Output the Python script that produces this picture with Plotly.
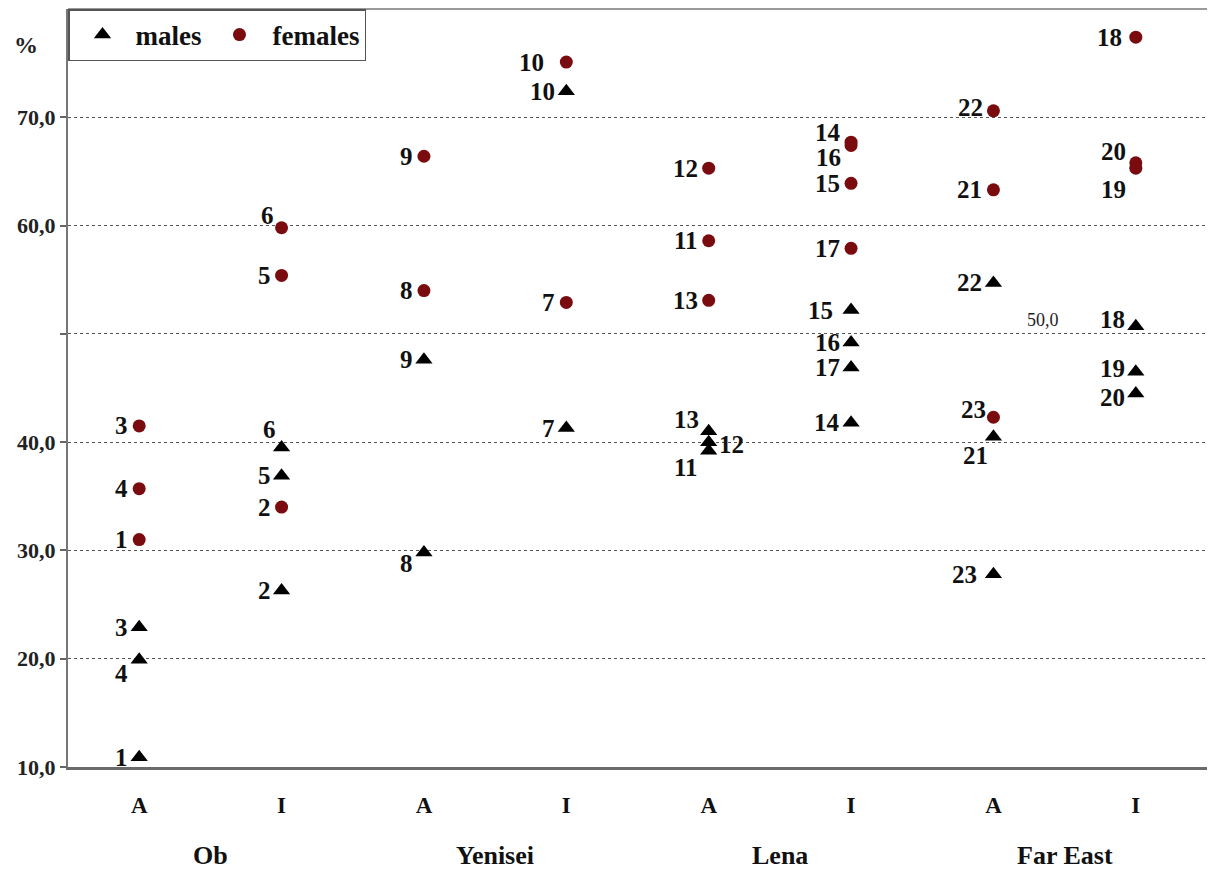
import plotly.graph_objects as go

# Category axis: two site types per river basin
categories = ["A", "I", "A", "I", "A", "I", "A", "I"]
regions = ["Ob", "Yenisei", "Lena", "Far East"]

# Males: category index, sample number, percentage
male_pos = [0, 0, 0, 1, 1, 1, 2, 2, 3, 3, 4, 4, 4, 5, 5, 5, 5, 6, 6, 6, 7, 7, 7]
male_id = [1, 3, 4, 2, 5, 6, 8, 9, 7, 10, 11, 12, 13, 14, 15, 16, 17, 21, 22, 23, 18, 19, 20]
male_val = [10.9, 22.9, 19.9, 26.3, 36.9, 39.5, 29.8, 47.6, 41.3, 72.4, 39.2, 40.0, 41.0,
            41.8, 52.2, 49.2, 46.9, 40.5, 54.7, 27.8, 50.7, 46.5, 44.5]

# Females: category index, sample number, percentage
female_pos = [0, 0, 0, 1, 1, 1, 2, 2, 3, 3, 4, 4, 4, 5, 5, 5, 5, 6, 6, 6, 7, 7, 7]
female_id = [1, 3, 4, 2, 5, 6, 8, 9, 7, 10, 11, 12, 13, 14, 15, 16, 17, 21, 22, 23, 18, 19, 20]
female_val = [31.0, 41.5, 35.7, 34.0, 55.4, 59.8, 54.0, 66.4, 52.9, 75.1, 58.6, 65.3, 53.1,
              67.7, 63.9, 67.4, 57.9, 63.3, 70.6, 42.3, 77.4, 65.3, 65.8]

y_ticks = [10, 20, 30, 40, 50, 60, 70]
y_ticktext = ["10,0", "20,0", "30,0", "40,0", "", "60,0", "70,0"]

SERIF = "Liberation Serif"
RED = "#7a0c0f"

# Label placement tweaks (pixel offsets of the number relative to its marker)
label_shift = {
    ("m", 4): (-9, -14, "right"),
    ("m", 6): (-4, 18, "right"),
    ("m", 8): (-9, -11, "right"),
    ("m", 13): (-8, 12, "right"),
    ("m", 12): (8, -2, "left"),
    ("m", 11): (-9, -17, "right"),
    ("m", 21): (-3, -19, "right"),
    ("m", 18): (-9, 7, "right"),
    ("m", 19): (-9, 3, "right"),
    ("m", 20): (-9, -4, "right"),
    ("m", 15): (-16, 0, "right"),
    ("m", 23): (-14, 0, "right"),
    ("f", 6): (-6, 12, "right"),
    ("f", 14): (-8, 10, "right"),
    ("f", 16): (-8, -12, "right"),
    ("f", 23): (-5, 8, "right"),
    ("f", 20): (-8, 11, "right"),
    ("f", 19): (-8, -21, "right"),
    ("f", 10): (-20, 0, "right"),
    ("f", 18): (-12, 0, "right"),
    ("f", 22): (-8, 3, "right"),
}

fig = go.Figure()
fig.add_trace(go.Scatter(
    x=male_pos, y=male_val, mode="markers", name="males",
    marker=dict(symbol="triangle-up", size=15, color="black"),
))
fig.add_trace(go.Scatter(
    x=female_pos, y=female_val, mode="markers", name="females",
    marker=dict(symbol="circle", size=13, color=RED),
))

annotations = []
for tag, pos, ids, vals in (("m", male_pos, male_id, male_val),
                            ("f", female_pos, female_id, female_val)):
    for p, i, v in zip(pos, ids, vals):
        dx, dy, anchor = label_shift.get((tag, i), (-9, 0, "right"))
        annotations.append(dict(
            x=p, y=v, xref="x", yref="y", text="<b>%d</b>" % i, showarrow=False,
            xanchor=anchor, yanchor="middle", xshift=dx, yshift=dy,
            font=dict(family=SERIF, size=25, color="#111"),
        ))

# River basin names below the A / I pairs
for k, name in enumerate(regions):
    annotations.append(dict(
        x=2 * k + 0.5, y=0, xref="x", yref="paper", text="<b>%s</b>" % name,
        showarrow=False, yanchor="top", yshift=-72,
        font=dict(family=SERIF, size=26, color="#111"),
    ))

# Unit label and the displaced 50,0 label
annotations.append(dict(
    x=-0.037, y=0.952, xref="paper", yref="paper", text="<b>%</b>",
    showarrow=False, xanchor="center", yanchor="middle",
    font=dict(family=SERIF, size=24, color="#222"),
))
annotations.append(dict(
    x=6.35, y=51.3, xref="x", yref="y", text="50,0", showarrow=False,
    xanchor="center", yanchor="middle",
    font=dict(family=SERIF, size=18, color="#222"),
))

fig.update_layout(
    width=1208, height=874,
    margin=dict(l=68, r=1, t=9, b=107),
    paper_bgcolor="white", plot_bgcolor="white",
    showlegend=True,
    legend=dict(
        orientation="h", x=0, y=1, xanchor="left", yanchor="top",
        bgcolor="white", bordercolor="#555", borderwidth=1.5,
        font=dict(family=SERIF, size=27, color="#111", weight="bold"),
        itemwidth=56, tracegroupgap=0,
    ),
    annotations=annotations,
    # light frame line along the top of the plotting area
    shapes=[dict(type="line", xref="paper", yref="paper", x0=0, x1=1, y0=1, y1=1,
                 line=dict(color="#9a9a9a", width=2), layer="below")],
    xaxis=dict(
        range=[-0.5, 7.5], tickmode="array", tickvals=list(range(8)),
        ticktext=["<b>%s</b>" % c for c in categories],
        ticks="", showgrid=False, zeroline=False,
        showline=True, linecolor="#6a6a6a", linewidth=2.5,
        tickfont=dict(family=SERIF, size=23, color="#111"),
        ticklabelstandoff=16,
    ),
    yaxis=dict(
        range=[10, 80], tickmode="array", tickvals=y_ticks,
        ticktext=["<b>%s</b>" % t if t else "" for t in y_ticktext],
        ticks="outside", ticklen=6, tickcolor="#666", tickwidth=1.5,
        showgrid=True, gridcolor="#555", griddash="dot", gridwidth=1.3,
        zeroline=False, showline=True, linecolor="#777", linewidth=2,
        tickfont=dict(family=SERIF, size=22, color="#222"),
    ),
)

fig.write_html("out.html")
